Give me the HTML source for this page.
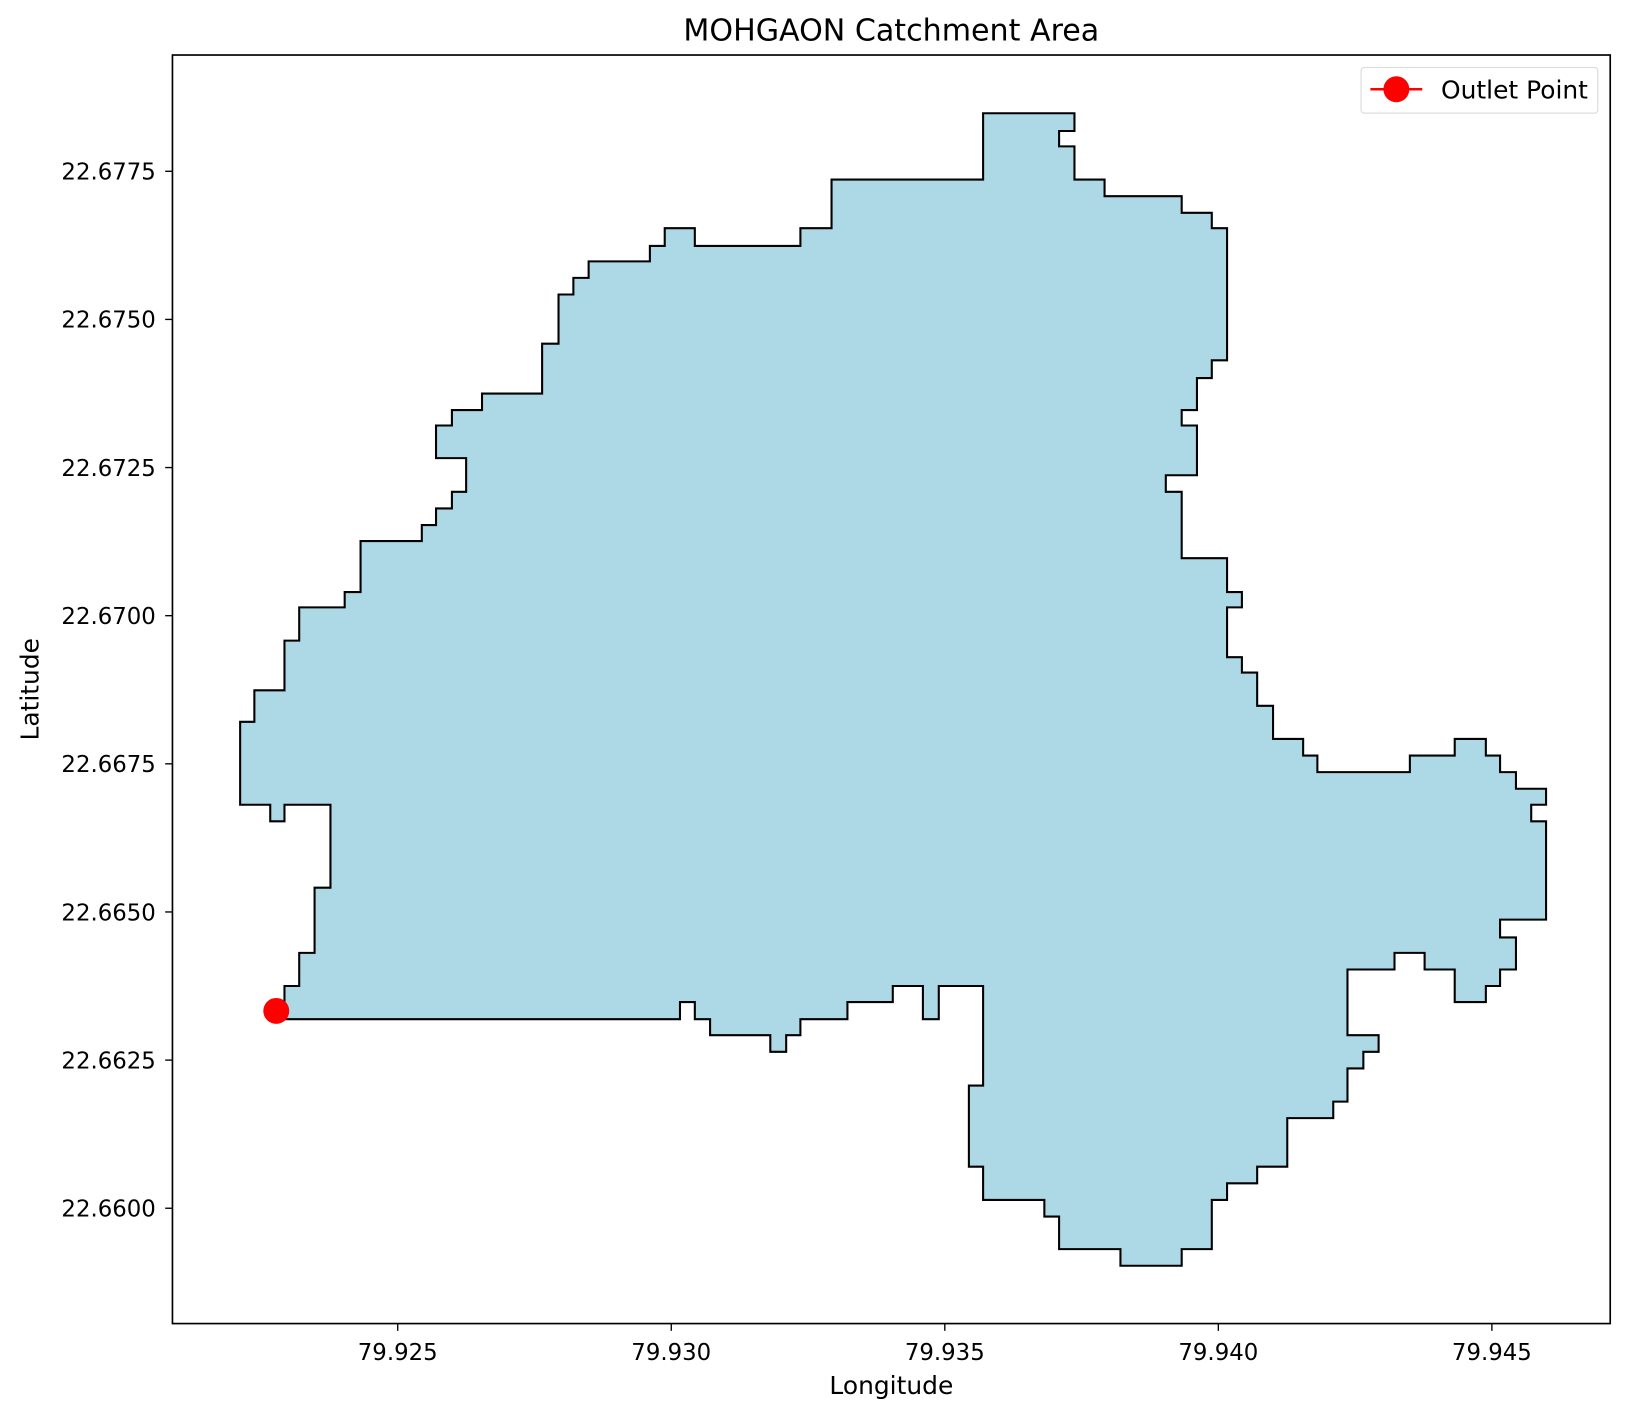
<!DOCTYPE html>
<html><head><meta charset="utf-8"><style>
html,body{margin:0;padding:0;background:#fff;}
svg{display:block;font-family:"DejaVu Sans","Liberation Sans",sans-serif;}
</style></head><body>
<svg id="chart" width="1628" height="1417" viewBox="0 0 1568 1365" xmlns="http://www.w3.org/2000/svg">
<rect width="1568" height="1365" fill="#fff"/>
<text x="858.5" y="39" font-size="29" text-anchor="middle" fill="#000">MOHGAON Catchment Area</text>
<g id="plot"></g>
<rect x="166" y="53" width="1385" height="1222" fill="none" stroke="#000" stroke-width="1.6"/>
<g id="xticks"></g><g id="yticks"></g>
<text x="858.5" y="1343" font-size="24" text-anchor="middle">Longitude</text>
<text x="37" y="664" font-size="24" text-anchor="middle" transform="rotate(-90 37 664)">Latitude</text>
<g>
<rect x="1311" y="65" width="228" height="44" rx="3" fill="#fff" stroke="#ddd" stroke-width="1.2"/>
<line x1="1320" y1="86" x2="1370" y2="86" stroke="#ff0000" stroke-width="2.4"/>
<circle cx="1345" cy="86" r="12.5" fill="#ff0000"/>
<text x="1388" y="95" font-size="24">Outlet Point</text>
</g>
</svg>
<script>
const xTicks = [79.925, 79.930, 79.935, 79.940, 79.945];
const xTickLabels = ["79.925", "79.930", "79.935", "79.940", "79.945"];
const yTicks = [22.6775, 22.6750, 22.6725, 22.6700, 22.6675, 22.6650, 22.6625, 22.6600];
const yTickLabels = ["22.6775", "22.6750", "22.6725", "22.6700", "22.6675", "22.6650", "22.6625", "22.6600"];
const boundary = [
[79.92293,22.66319],[79.92293,22.66375],[79.92320,22.66375],[79.92320,22.66431],[79.92348,22.66431],[79.92348,22.66541],[79.92377,22.66541],[79.92377,22.66681],[79.92293,22.66681],[79.92293,22.66653],[79.92267,22.66653],[79.92267,22.66681],[79.92212,22.66681],[79.92212,22.66821],[79.92238,22.66821],[79.92238,22.66874],[79.92293,22.66874],[79.92293,22.66958],[79.92320,22.66958],[79.92320,22.67014],[79.92403,22.67014],[79.92403,22.67040],[79.92432,22.67040],[79.92432,22.67126],[79.92544,22.67126],[79.92544,22.67153],[79.92570,22.67153],[79.92570,22.67181],[79.92599,22.67181],[79.92599,22.67209],[79.92625,22.67209],[79.92625,22.67266],[79.92570,22.67266],[79.92570,22.67321],[79.92599,22.67321],[79.92599,22.67347],[79.92654,22.67347],[79.92654,22.67375],[79.92764,22.67375],[79.92764,22.67459],[79.92794,22.67459],[79.92794,22.67542],[79.92821,22.67542],[79.92821,22.67570],[79.92849,22.67570],[79.92849,22.67598],[79.92961,22.67598],[79.92961,22.67624],[79.92988,22.67624],[79.92988,22.67654],[79.93043,22.67654],[79.93043,22.67624],[79.93236,22.67624],[79.93236,22.67654],[79.93293,22.67654],[79.93293,22.67736],[79.93570,22.67736],[79.93570,22.67848],[79.93737,22.67848],[79.93737,22.67818],[79.93709,22.67818],[79.93709,22.67792],[79.93737,22.67792],[79.93737,22.67736],[79.93792,22.67736],[79.93792,22.67708],[79.93933,22.67708],[79.93933,22.67680],[79.93988,22.67680],[79.93988,22.67654],[79.94016,22.67654],[79.94016,22.67431],[79.93988,22.67431],[79.93988,22.67401],[79.93961,22.67401],[79.93961,22.67347],[79.93933,22.67347],[79.93933,22.67321],[79.93961,22.67321],[79.93961,22.67237],[79.93904,22.67237],[79.93904,22.67209],[79.93933,22.67209],[79.93933,22.67097],[79.94016,22.67097],[79.94016,22.67040],[79.94043,22.67040],[79.94043,22.67014],[79.94016,22.67014],[79.94016,22.66930],[79.94043,22.66930],[79.94043,22.66904],[79.94071,22.66904],[79.94071,22.66848],[79.94100,22.66848],[79.94100,22.66792],[79.94155,22.66792],[79.94155,22.66764],[79.94181,22.66764],[79.94181,22.66736],[79.94350,22.66736],[79.94350,22.66764],[79.94432,22.66764],[79.94432,22.66792],[79.94489,22.66792],[79.94489,22.66764],[79.94515,22.66764],[79.94515,22.66736],[79.94544,22.66736],[79.94544,22.66708],[79.94599,22.66708],[79.94599,22.66681],[79.94572,22.66681],[79.94572,22.66653],[79.94599,22.66653],[79.94599,22.66487],[79.94515,22.66487],[79.94515,22.66457],[79.94544,22.66457],[79.94544,22.66403],[79.94515,22.66403],[79.94515,22.66375],[79.94489,22.66375],[79.94489,22.66348],[79.94432,22.66348],[79.94432,22.66403],[79.94377,22.66403],[79.94377,22.66431],[79.94322,22.66431],[79.94322,22.66403],[79.94236,22.66403],[79.94236,22.66292],[79.94293,22.66292],[79.94293,22.66264],[79.94265,22.66264],[79.94265,22.66236],[79.94236,22.66236],[79.94236,22.66180],[79.94210,22.66180],[79.94210,22.66152],[79.94126,22.66152],[79.94126,22.66070],[79.94071,22.66070],[79.94071,22.66042],[79.94016,22.66042],[79.94016,22.66014],[79.93988,22.66014],[79.93988,22.65931],[79.93933,22.65931],[79.93933,22.65903],[79.93821,22.65903],[79.93821,22.65931],[79.93709,22.65931],[79.93709,22.65986],[79.93682,22.65986],[79.93682,22.66014],[79.93570,22.66014],[79.93570,22.66070],[79.93544,22.66070],[79.93544,22.66207],[79.93570,22.66207],[79.93570,22.66375],[79.93489,22.66375],[79.93489,22.66319],[79.93460,22.66319],[79.93460,22.66375],[79.93405,22.66375],[79.93405,22.66348],[79.93322,22.66348],[79.93322,22.66319],[79.93236,22.66319],[79.93236,22.66292],[79.93210,22.66292],[79.93210,22.66264],[79.93181,22.66264],[79.93181,22.66292],[79.93071,22.66292],[79.93071,22.66319],[79.93043,22.66319],[79.93043,22.66348],[79.93016,22.66348],[79.93016,22.66319]
];
const outletLon = [79.92278];
const outletLat = [22.66333];

const NS = "http://www.w3.org/2000/svg";
function xScale(lon){ return 383 + (lon - 79.925) / 0.005 * 263.5; }
function yScale(lat){ return 165 + (22.6775 - lat) / 0.0025 * 142.7; }
function mk(tag, attrs, parent){ const e = document.createElementNS(NS, tag); for (const k in attrs) e.setAttribute(k, attrs[k]); parent.appendChild(e); return e; }

const plot = document.getElementById('plot');
const pts = boundary.map(p => xScale(p[0]).toFixed(1) + "," + yScale(p[1]).toFixed(1)).join(" ");
const poly = mk('polygon', {points: pts, fill: '#add8e6', stroke: '#000', 'stroke-width': 2}, plot);


outletLon.forEach((lon, i) => {
  const c = mk('circle', {cx: xScale(lon), cy: yScale(outletLat[i]), r: 12.5, fill: '#ff0000'}, plot);
  
  
});

const xg = document.getElementById('xticks');
xTicks.forEach((v, i) => {
  const x = xScale(v);
  const t = mk('line', {x1: x, y1: 1275, x2: x, y2: 1282, stroke: '#000', 'stroke-width': 1.3}, xg);
  
  
  const l = mk('text', {x: x, y: 1310, 'font-size': 22, 'text-anchor': 'middle'}, xg);
  l.textContent = xTickLabels[i];
  
  
});
const yg = document.getElementById('yticks');
yTicks.forEach((v, i) => {
  const y = yScale(v);
  const t = mk('line', {x1: 159, y1: y, x2: 166, y2: y, stroke: '#000', 'stroke-width': 1.3}, yg);
  
  
  const l = mk('text', {x: 150, y: y + 8, 'font-size': 22, 'text-anchor': 'end'}, yg);
  l.textContent = yTickLabels[i];
  
  
});
</script>
</body></html>
